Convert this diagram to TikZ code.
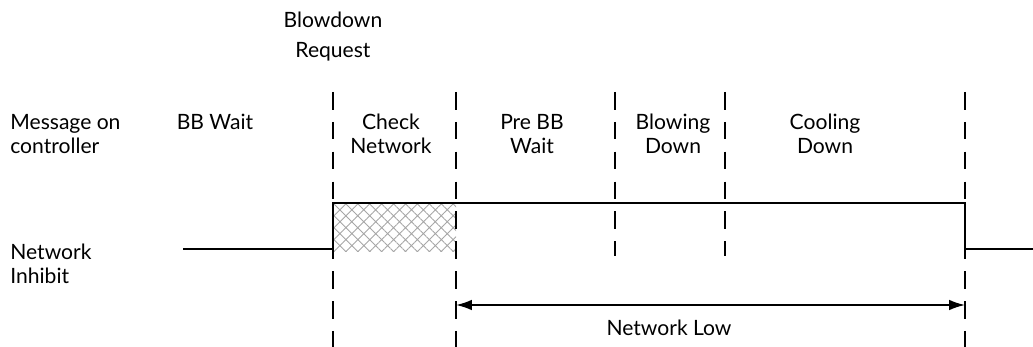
\documentclass[tikz,border=0pt]{standalone}
\usepackage{fontspec}
\setmainfont{Lato}
\usetikzlibrary{arrows.meta,patterns.meta,positioning}

\begin{document}
\begin{tikzpicture}[x=0.02cm,y=-0.02cm,
    lbl/.style={font=\fontsize{12}{14}\selectfont, inner sep=0pt, align=center},
    marker/.style={line width=1pt, dash pattern=on 10 off 7},
    signal/.style={line width=1pt}]
  \useasboundingbox (0,0) rectangle (1033,347);

  % Event markers
  \coordinate (req top) at (333,92);   \coordinate (req bot) at (333,347);
  \coordinate (chk top) at (456,92);   \coordinate (chk bot) at (456,347);
  \coordinate (pre top) at (615,92);   \coordinate (pre bot) at (615,256);
  \coordinate (blw top) at (725,92);   \coordinate (blw bot) at (725,256);
  \coordinate (end top) at (965,92);   \coordinate (end bot) at (965,347);

  % Check network hatch
  \fill[pattern={Hatch[angle=45,distance=4.8pt,line width=0.5pt]},pattern color=gray!70]
    (333,203) rectangle (456,252);

  \foreach \m in {req,chk,pre,blw,end}
    \draw[marker] (\m\space top) -- (\m\space bot);

  % Network inhibit signal
  \coordinate (sig start) at (183,249);
  \coordinate (sig stop) at (1033,249);
  \draw[signal] (sig start) -- (333,249) -- (333,203) -- (965,203) -- (965,249) -- (sig stop);

  % Network low arrow
  \draw[signal,{Latex[length=9pt,width=6pt]}-{Latex[length=9pt,width=6pt]}]
    (chk bot |- 0,305) -- (end bot |- 0,305);
  \node[lbl] (low) at (669,328) {Network Low};

  % Labels
  \node[lbl] (blowdown) at (333,20) {Blowdown};
  \node[lbl] (request) at (333,52) {Request};
  \node[lbl,anchor=west,align=left] (msg) at (10,134) {Message on\\controller};
  \node[lbl,anchor=west,align=left] (inhibit) at (10,264) {Network\\Inhibit};
  \node[lbl] (bbwait) at (215,122) {BB Wait};
  \node[lbl] (check) at (391,134) {Check\\Network};
  \node[lbl] (prebb) at (532,134) {Pre BB\\Wait};
  \node[lbl] (blowing) at (673,134) {Blowing\\Down};
  \node[lbl] (cooling) at (825,134) {Cooling\\Down};
\end{tikzpicture}
\end{document}
